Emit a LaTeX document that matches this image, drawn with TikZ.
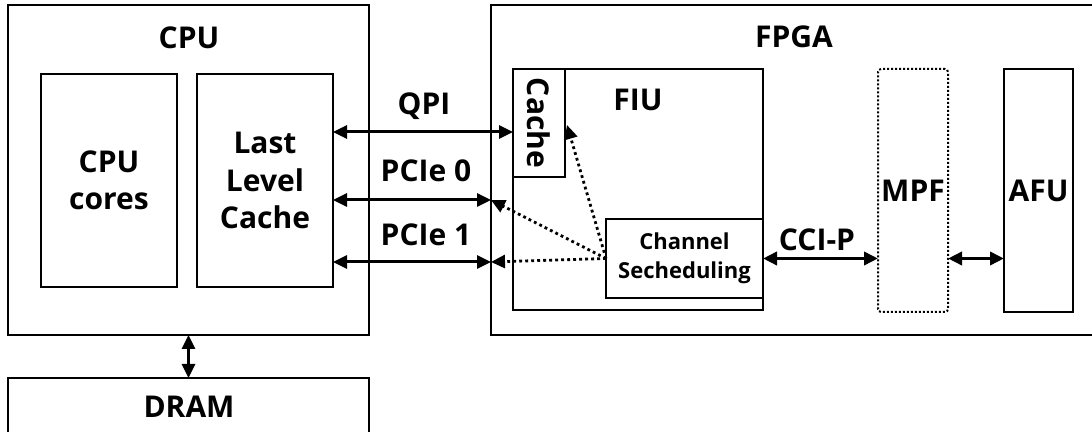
\documentclass[tikz,border=0pt]{standalone}
\usepackage{fontspec}
\setmainfont{Open Sans}
\usepackage{tikz}
\usetikzlibrary{arrows.meta}
\tikzstyle{diagram} = [x = .5pt, y = -.5pt]
\tikzstyle{boxFont} = [font=\bfseries\fontsize{15}{18.75}\selectfont, align=center]
\tikzstyle{blockStyle} = [draw, line width=1.4pt, inner sep=0pt, outer sep=0pt, boxFont]
\tikzstyle{thinBlockStyle} = [blockStyle, line width=1.3pt, font=\bfseries\fontsize{11}{14.5}\selectfont]
\tikzstyle{dottedBlockStyle} = [blockStyle, line width=1pt, dash pattern=on 1pt off 1pt, rounded corners=1.5pt]
\tikzstyle{busText} = [boxFont]
\tikzstyle{busArrow} = [line width=1.5pt, {Triangle[length=7pt,width=6.5pt]}-{Triangle[length=7pt,width=6.5pt]}]
\tikzstyle{wideBusArrow} = [busArrow, line width=1.9pt]
\tikzstyle{routeArrow} = [line width=1.4pt, dash pattern=on 1.4pt off 1.6pt, -{Triangle[length=7pt,width=6.5pt]}]
% box from corner (#3,#4) to corner (#5,#6), in pixel units
\newcommand{\blockNode}[7][blockStyle]{\node [#1, minimum width={(#5-#3)*.5pt}, minimum height={(#6-#4)*.5pt}] (#2) at ({(#3+#5)/2}, {(#4+#6)/2}) {#7};}
\newcommand{\textNode}[4]{\node [busText] (#1) at (#2, #3) {#4};}

\begin{document}
\begin{tikzpicture}[diagram]
  \useasboundingbox (0,0) rectangle (1092,432);
  \clip (0,0) rectangle (1092,432);
  % host side
  \blockNode{cpu}{8}{5}{369}{335}{}\textNode{cpuLabel}{189}{38}{CPU}
  \blockNode{cores}{41}{74}{177}{287}{CPU\\cores}
  \blockNode{llc}{197}{74}{333}{287}{Last\\Level\\Cache}
  \blockNode{dram}{8}{378}{369}{445}{}\textNode{dramLabel}{189}{407}{DRAM}
  \draw [busArrow] (cpu.south) -- (dram.north);
  % fpga side
  \blockNode{fpga}{491}{5}{1100}{335}{}\textNode{fpgaLabel}{794}{37}{FPGA}
  \blockNode[thinBlockStyle]{fiu}{513}{69}{763}{310}{}\textNode{fiuLabel}{638}{100}{FIU}
  \blockNode[thinBlockStyle]{cache}{513}{69}{565}{177}{}
  \node [busText, rotate=-90] (cacheLabel) at (cache.center) {Cache};
  \blockNode[thinBlockStyle]{sched}{606}{219}{763}{298}{Channel\\Secheduling}
  \blockNode[dottedBlockStyle]{mpf}{878}{69}{948}{312}{MPF}
  \blockNode{afu}{1004}{69}{1073}{312}{AFU}
  % links
  \coordinate (qpiRow) at (0,132);
  \coordinate (pcieZeroRow) at (0,200);
  \coordinate (pcieOneRow) at (0,262);
  \draw [busArrow] (llc.east |- qpiRow) -- (cache.west |- qpiRow);
  \draw [busArrow] (llc.east |- pcieZeroRow) -- (fpga.west |- pcieZeroRow);
  \draw [busArrow] (llc.east |- pcieOneRow) -- (fpga.west |- pcieOneRow);
  \textNode{qpiLabel}{424}{106}{QPI}
  \textNode{pcieZeroLabel}{426}{171}{PCIe 0}
  \textNode{pcieOneLabel}{426}{235}{PCIe 1}
  \draw [routeArrow] (sched.west) -- ([xshift=1pt, yshift=-1pt]cache.east);
  \draw [routeArrow] (sched.west) -- (fpga.west |- pcieZeroRow);
  \draw [routeArrow] (sched.west) -- (fpga.west |- pcieOneRow);
  \draw [wideBusArrow] (sched.east) -- (mpf.west |- sched.east);
  \textNode{ccipLabel}{817}{240}{CCI-P}
  \draw [wideBusArrow] (mpf.east |- sched.east) -- (afu.west |- sched.east);
\end{tikzpicture}
\end{document}
